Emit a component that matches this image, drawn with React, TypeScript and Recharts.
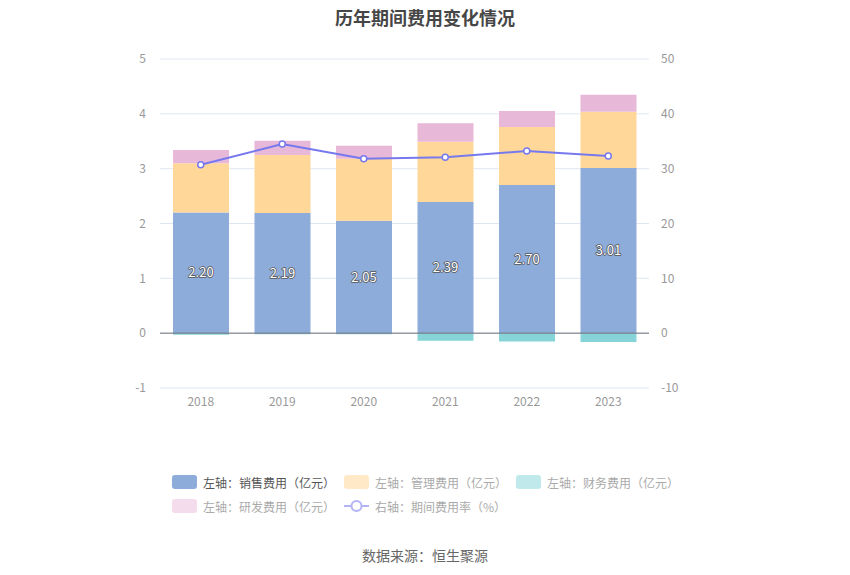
import React from "react";
import { ComposedChart, Bar, Line, XAxis, YAxis, CartesianGrid, ReferenceLine, LabelList } from "recharts";

// 历年期间费用 (亿元) and 期间费用率 (%)
const years = ["2018", "2019", "2020", "2021", "2022", "2023"];
const salesCost = [2.2, 2.19, 2.05, 2.39, 2.7, 3.01];
const adminCost = [0.9, 1.06, 1.13, 1.1, 1.06, 1.03];
const financeCost = [-0.03, -0.02, -0.02, -0.14, -0.15, -0.16];
const rdCost = [0.24, 0.26, 0.24, 0.34, 0.29, 0.31];
const expenseRate = [30.7, 34.5, 31.8, 32.1, 33.2, 32.3];

const leftTicks = [-1, 0, 1, 2, 3, 4, 5];
const rightTicks = [-10, 0, 10, 20, 30, 40, 50];

const data = years.map((year, i) => ({
    year,
    sales: salesCost[i],
    admin: adminCost[i],
    finance: financeCost[i],
    rd: rdCost[i],
    rate: expenseRate[i],
}));

const COLORS = {
    sales: "#8EACDA",
    admin: "#FFD899",
    finance: "#86D4D7",
    rd: "#E8B8D8",
    rate: "#7679EE",
};

const legendItems = [
    { key: "sales", label: "左轴：销售费用（亿元）", type: "rect", color: COLORS.sales, active: true },
    { key: "admin", label: "左轴：管理费用（亿元）", type: "rect", color: "#FFE9C6", active: false },
    { key: "finance", label: "左轴：财务费用（亿元）", type: "rect", color: "#BFE9EB", active: false },
    { key: "rd", label: "左轴：研发费用（亿元）", type: "rect", color: "#F4DCEC", active: false },
    { key: "rate", label: "右轴：期间费用率（%）", type: "line", color: "#B2B4F6", active: false },
];

const ChartLegend = () => (
    <div style={{ position: "absolute", top: 475, left: 0, width: 850, height: 50 }}>
        {legendItems.map((item, i) => {
            const col = i % 3;
            const row = Math.floor(i / 3);
            return (
                <div
                    key={item.key}
                    style={{
                        position: "absolute",
                        left: 172 + col * 172,
                        top: row * 24,
                        display: "flex",
                        alignItems: "center",
                        height: 14,
                        fontSize: 12,
                        color: item.active ? "#555" : "#aaa",
                        whiteSpace: "nowrap",
                    }}
                >
                    {item.type === "rect" ? (
                        <span style={{ display: "inline-block", width: 25, height: 14, borderRadius: 3, background: item.color, marginRight: 6 }} />
                    ) : (
                        <svg width={25} height={14} style={{ marginRight: 6 }}>
                            <line x1={0} y1={7} x2={25} y2={7} stroke={item.color} strokeWidth={2} />
                            <circle cx={12.5} cy={7} r={5} fill="#fff" stroke={item.color} strokeWidth={2} />
                        </svg>
                    )}
                    <span>{item.label}</span>
                </div>
            );
        })}
    </div>
);

const axisTick = { fill: "#999", fontSize: 12 };

export default function App() {
    return (
        <div style={{ position: "absolute", left: 0, top: 0, width: 850, height: 575, background: "#fff", fontFamily: "'Noto Sans CJK SC', 'Noto Sans', sans-serif" }}>
            <div style={{ position: "absolute", top: 4, width: 850, textAlign: "center", fontSize: 18, fontWeight: "bold", color: "#464646" }}>
                历年期间费用变化情况
            </div>
            <ComposedChart
                width={850}
                height={575}
                data={data}
                stackOffset="sign"
                margin={{ top: 59, right: 161, bottom: 157, left: 120 }}
            >
                <CartesianGrid yAxisId="left" vertical={false} stroke="#E0E6F1" />
                <XAxis dataKey="year" axisLine={false} tickLine={false} tick={axisTick} tickMargin={3} height={30} />
                <YAxis
                    yAxisId="left"
                    domain={[-1, 5]}
                    ticks={leftTicks}
                    axisLine={false}
                    tickLine={false}
                    tick={axisTick}
                    tickMargin={8}
                    width={40}
                />
                <YAxis
                    yAxisId="right"
                    orientation="right"
                    domain={[-10, 50]}
                    ticks={rightTicks}
                    axisLine={false}
                    tickLine={false}
                    tick={axisTick}
                    tickMargin={6}
                    width={40}
                />
                <Bar yAxisId="left" dataKey="sales" stackId="a" fill={COLORS.sales} barSize={56} isAnimationActive={false}>
                    <LabelList
                        dataKey="sales"
                        position="center"
                        formatter={(v: any) => Number(v).toFixed(2)}
                        style={{ fill: "#fff", stroke: "#555", strokeWidth: 1.5, paintOrder: "stroke", fontSize: 13 }}
                    />
                </Bar>
                <Bar yAxisId="left" dataKey="admin" stackId="a" fill={COLORS.admin} barSize={56} isAnimationActive={false} />
                <Bar yAxisId="left" dataKey="finance" stackId="a" fill={COLORS.finance} barSize={56} isAnimationActive={false} />
                <Bar yAxisId="left" dataKey="rd" stackId="a" fill={COLORS.rd} barSize={56} isAnimationActive={false} />
                <ReferenceLine yAxisId="left" y={0} stroke="#6E7079" ifOverflow="visible" />
                <Line
                    yAxisId="right"
                    dataKey="rate"
                    stroke={COLORS.rate}
                    strokeWidth={2}
                    dot={{ r: 3, fill: "#fff", stroke: COLORS.rate, strokeWidth: 1.5 }}
                    isAnimationActive={false}
                />
            </ComposedChart>
            <ChartLegend />
            <div style={{ position: "absolute", top: 545, width: 850, textAlign: "center", fontSize: 14, color: "#666" }}>
                数据来源：恒生聚源
            </div>
        </div>
    );
}
